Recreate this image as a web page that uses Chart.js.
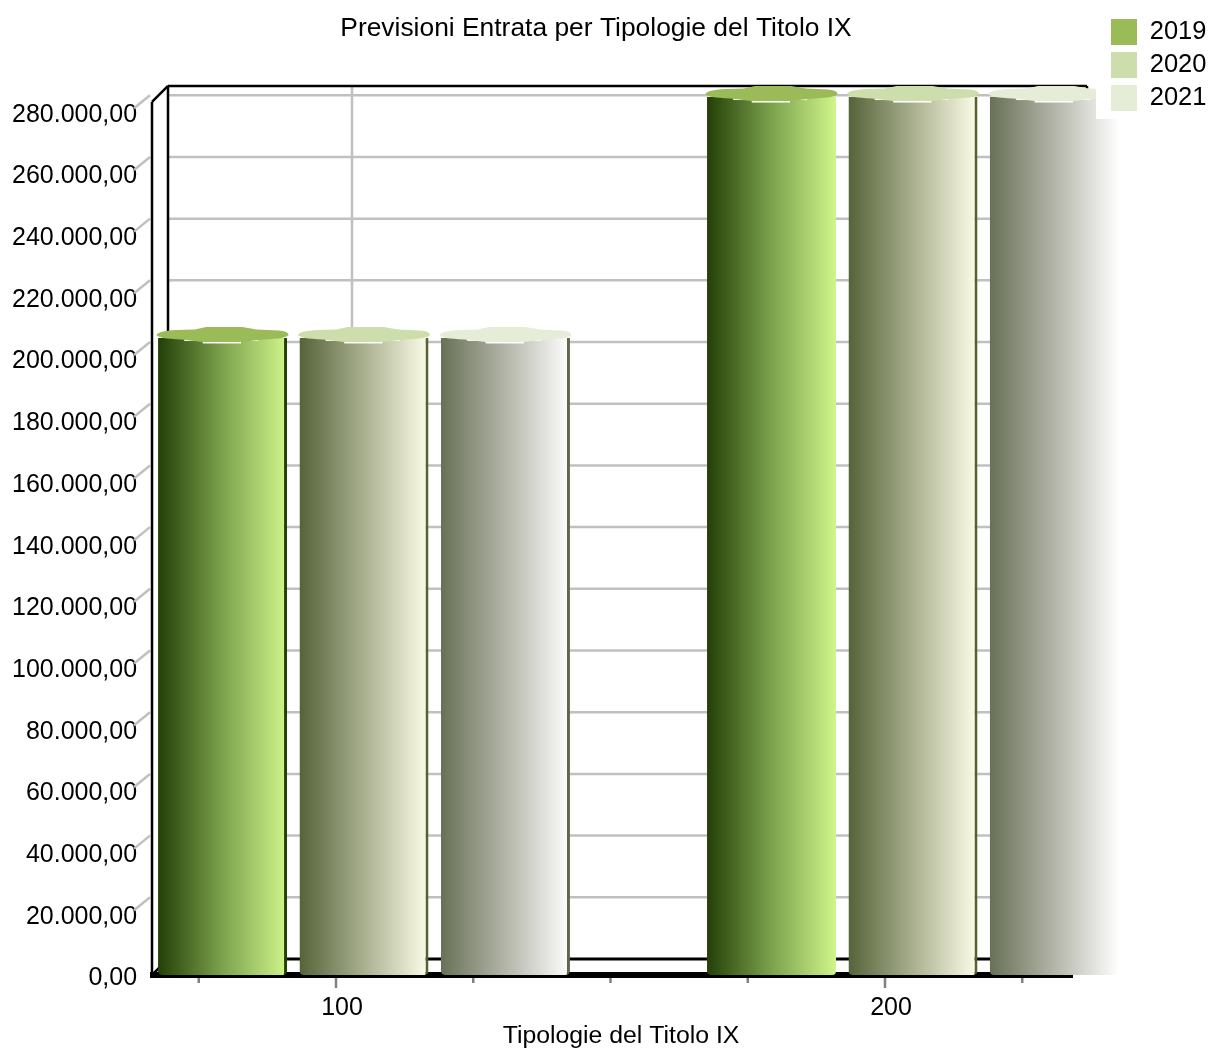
<!DOCTYPE html>
<html>
<head>
<meta charset="utf-8">
<title>Previsioni Entrata</title>
<script src="https://cdn.jsdelivr.net/npm/chart.js@4/dist/chart.umd.min.js"></script>
<style>
  html, body { margin: 0; padding: 0; background: #fff; }
  #wrap { width: 1212px; height: 1048px; }
</style>
</head>
<body>
<div id="wrap"><canvas id="barChart" width="1212" height="1048"></canvas></div>
<script>
// dati
const categories = ['100', '200'];
const years = ['2019', '2020', '2021'];
const values2019 = [206500, 284600];
const values2020 = [206500, 284600];
const values2021 = [206500, 284600];
const yTickValues = [0, 20000, 40000, 60000, 80000, 100000, 120000, 140000, 160000, 180000, 200000, 220000, 240000, 260000, 280000];
const yTickLabels = ['0,00', '20.000,00', '40.000,00', '60.000,00', '80.000,00', '100.000,00', '120.000,00',
    '140.000,00', '160.000,00', '180.000,00', '200.000,00', '220.000,00', '240.000,00', '260.000,00', '280.000,00'];

const FONT = '"Liberation Sans", Arial, sans-serif';
const catPct = 0.773;
const barPct = 0.912;
const depth = 16; // sfalsamento della parete di fondo

const capColors = ['#9bbb59', '#cdddac', '#e6edd7'];
const edgeColors = ['#234006', '#56632f', '#5e664c'];
const edgeWidths = [[3, 0], [3, 3], [3, 0]];
const ramps = [
    ['#233f07', '#7ca24d', '#cff58b'],
    ['#566339', '#a9b08f', '#fdfde8'],
    ['#687157', '#b3b5a8', '#ffffff']
];

// gradiente orizzontale del cilindro, calcolato dalla scala x
function cylinderFill(ctx) {
    const i = ctx.datasetIndex;
    const x = ctx.chart.scales.x;
    if (ctx.type !== 'data' || !x || !Number.isFinite(x.width) || !Number.isFinite(x.getPixelForValue(0))) {
        return capColors[i];
    }
    const step = (x.width / categories.length) * catPct / years.length;
    const mid = x.getPixelForValue(ctx.dataIndex) + (i - 1) * step;
    const half = step * barPct / 2;
    const g = ctx.chart.ctx.createLinearGradient(mid - half, 0, mid + half, 0);
    g.addColorStop(0, ramps[i][0]);
    g.addColorStop(0.5, ramps[i][1]);
    g.addColorStop(1, ramps[i][2]);
    return g;
}

function makeDataset(label, data, i) {
    return {
        label: label,
        data: data,
        clip: false,
        backgroundColor: cylinderFill,
        borderColor: edgeColors[i],
        borderWidth: (ctx) => ctx.type === 'data' ? { right: edgeWidths[i][ctx.dataIndex], left: 0, top: 0, bottom: 0 } : 0,
        borderSkipped: false,
        borderRadius: { topLeft: 0, topRight: 0, bottomLeft: 4, bottomRight: 4 },
        categoryPercentage: catPct,
        barPercentage: barPct
    };
}

function line(c, x1, y1, x2, y2) {
    c.beginPath();
    c.moveTo(x1, y1);
    c.lineTo(x2, y2);
    c.stroke();
}

// telaio 3D, griglia e tacche
const framePlugin = {
    id: 'frame',
    afterLayout(chart) {
        chart.titleBlock.left = 0;
        chart.titleBlock.right = 1192;
        chart.legend.left = 1111 - 7;
        chart.legend.top = 19 - 7;
        chart.legend.right = 1212;
        chart.legend.bottom = 119;
    },
    beforeDatasetsDraw(chart) {
        const c = chart.ctx;
        const x = chart.scales.x;
        const y = chart.scales.y;
        const left = 152;
        const right = 1071;
        const top = y.top;
        const bottom = y.bottom;
        c.save();

        c.strokeStyle = '#c0c0c0';
        c.lineWidth = 2.5;
        y.ticks.forEach((t) => {
            const py = y.getPixelForValue(t.value);
            if (t.value > 0) {
                line(c, left + depth, py - depth, right + depth, py - depth);
                line(c, left - 2, py - depth, left - 18, py - 3);
            }
        });
        x.ticks.forEach((t, i) => {
            const px = x.getPixelForValue(i) - 28 + depth;
            line(c, px, top - depth, px, bottom - depth);
        });

        c.strokeStyle = '#808080';
        const tickStep = x.width / categories.length / 4;
        for (let k = -1; k <= 5; k++) {
            const px = x.getPixelForValue(0) - 28 + k * tickStep;
            line(c, px, bottom, px, bottom + (k % 4 === 0 ? 13 : 8));
        }

        c.strokeStyle = '#000';
        c.lineWidth = 2.5;
        line(c, left + depth, top - depth, left + depth, bottom - depth);
        line(c, left, top, left, bottom);
        line(c, left, top, left + depth, top - depth);
        line(c, left, bottom, left + depth, bottom - depth);
        line(c, left + depth, top - depth, right + depth, top - depth);
        line(c, right + depth, top - depth, right + depth, bottom - depth);
        c.lineWidth = 3;
        line(c, left + depth, bottom - depth, right + depth, bottom - depth);

        c.fillStyle = '#000';
        c.fillRect(left - 2, bottom - 3, right - left + 4, 6);
        c.restore();
    },
    afterDatasetsDraw(chart) {
        const c = chart.ctx;
        c.save();
        chart.data.datasets.forEach((ds, i) => {
            chart.getDatasetMeta(i).data.forEach((el) => {
                const cx = el.x;
                const cy = el.y - 3;
                const w = el.width / 2 + 1.5;

                // sotto il tappo resta una fessura chiara
                c.fillStyle = '#fff';
                c.fillRect(cx - w * 0.58, el.y, w * 1.12, 3);
                c.fillRect(cx - w * 0.3, el.y, w * 0.58, 5.5);

                c.fillStyle = capColors[i];
                c.beginPath();
                c.moveTo(cx - w, cy);
                c.quadraticCurveTo(cx - w * 0.98, cy - 4, cx - w * 0.7, cy - 5);
                c.lineTo(cx - w * 0.42, cy - 5.5);
                c.lineTo(cx - w * 0.25, cy - 8);
                c.lineTo(cx + w * 0.3, cy - 8);
                c.lineTo(cx + w * 0.52, cy - 5.5);
                c.lineTo(cx + w * 0.85, cy - 4.5);
                c.quadraticCurveTo(cx + w, cy - 4, cx + w, cy);
                c.quadraticCurveTo(cx + w * 0.98, cy + 3.5, cx + w * 0.62, cy + 4.5);
                c.lineTo(cx + w * 0.28, cy + 7);
                c.lineTo(cx - w * 0.3, cy + 7);
                c.lineTo(cx - w * 0.62, cy + 4.5);
                c.quadraticCurveTo(cx - w * 0.98, cy + 3.5, cx - w, cy);
                c.fill();
            });
        });

        // il riquadro della legenda copre l'angolo dell'ultima barra
        c.fillStyle = '#fff';
        c.fillRect(1096, 0, 116, 119);
        chart.legend.draw();

        c.fillStyle = '#000';
        c.font = '24.8px ' + FONT;
        c.textAlign = 'center';
        c.textBaseline = 'middle';
        c.fillText('Tipologie del Titolo IX', 621, 1036);
        c.restore();
    }
};

new Chart(document.getElementById('barChart').getContext('2d'), {
    type: 'bar',
    data: {
        labels: categories,
        datasets: [
            makeDataset(years[0], values2019, 0),
            makeDataset(years[1], values2020, 1),
            makeDataset(years[2], values2021, 2)
        ]
    },
    options: {
        responsive: false,
        animation: false,
        layout: { padding: { left: 89.5, right: 24.5, top: 0, bottom: 0 } },
        plugins: {
            title: {
                display: true,
                text: 'Previsioni Entrata per Tipologie del Titolo IX',
                color: '#000',
                font: { family: FONT, size: 26.4, weight: 'normal' },
                padding: { top: 13, bottom: 57.3 }
            },
            legend: {
                position: 'chartArea',
                align: 'start',
                labels: {
                    color: '#000',
                    font: { family: FONT, size: 25.5 },
                    boxWidth: 26,
                    boxHeight: 26,
                    padding: 7,
                    generateLabels: () => years.map((year, i) => ({
                        text: year,
                        fillStyle: capColors[i],
                        strokeStyle: capColors[i],
                        lineWidth: 0,
                        fontColor: '#000',
                        datasetIndex: i
                    }))
                }
            },
            tooltip: { enabled: false }
        },
        scales: {
            x: {
                grid: { display: false },
                border: { display: false },
                afterFit(scale) { scale.height = 73; },
                ticks: {
                    color: '#000',
                    font: { family: FONT, size: 25 },
                    labelOffset: -22,
                    padding: 10,
                    maxRotation: 0
                }
            },
            y: {
                min: 0,
                max: 283000,
                bounds: 'data',
                grid: { display: false },
                border: { display: false },
                afterFit(scale) { scale.width = 0; },
                afterBuildTicks(scale) { scale.ticks = yTickValues.map((v) => ({ value: v })); },
                ticks: {
                    color: '#000',
                    font: { family: FONT, size: 25 },
                    mirror: true,
                    crossAlign: 'far',
                    padding: -77.5,
                    labelOffset: 3.5,
                    callback: (v, i) => yTickLabels[i]
                }
            }
        }
    },
    plugins: [framePlugin]
});
</script>
</body>
</html>
